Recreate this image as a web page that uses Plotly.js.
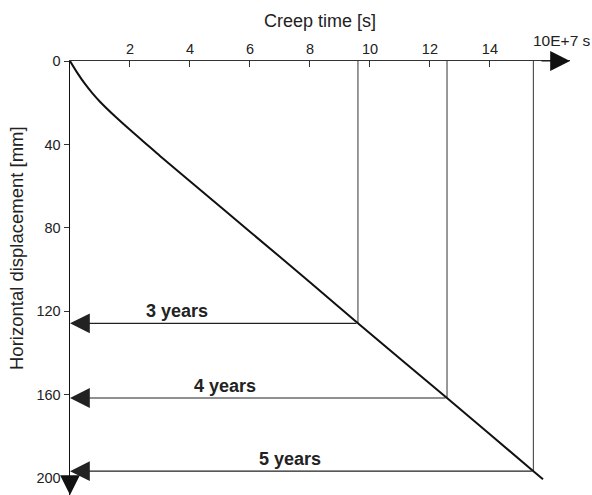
<!DOCTYPE html>
<html>
<head>
<meta charset="utf-8">
<script src="https://cdn.plot.ly/plotly-3.0.1.min.js"></script>
<style>html,body{margin:0;padding:0;background:#fff;}#chart{width:592px;height:495px;}</style>
</head>
<body>
<div id="chart"></div>
<script>
// Creep curve (time in 10E+7 s, displacement in mm)
const curveTime = [0, 0.25, 0.5, 0.75, 1.0, 1.5, 2.0, 2.6, 3.0, 4.0, 6.0, 8.0, 9.6, 12.57, 15.45, 15.77];
const curveDisp = [0, 5.8, 11, 15.5, 19.5, 26.5, 33, 40.5, 45.5, 57.6, 81.8, 106, 125.7, 161.5, 196.6, 200.5];
// Marked durations
const yearLabels = ['3 years', '4 years', '5 years'];
const yearTime = [9.6, 12.57, 15.45];
const yearDisp = [125.7, 161.5, 196.6];
const labelTime = [3.57, 5.17, 7.33];
// Ticks
const xTicks = [2, 4, 6, 8, 10, 12, 14];
const yTicks = [0, 40, 80, 120, 160, 200];

const xMax = 16.67, yMax = 208;
const font = 'Liberation Sans, Arial, sans-serif';

const traces = [];
yearTime.forEach((t, i) => {
  traces.push({x: [t, t], y: [0, yearDisp[i]], mode: 'lines', line: {color: '#555', width: 1.2}, hoverinfo: 'skip', showlegend: false});
});
traces.push({x: curveTime, y: curveDisp, mode: 'lines', line: {color: '#111', width: 2, shape: 'spline', smoothing: 0.8}, showlegend: false});

const arrowStyle = {text: '', showarrow: true, arrowhead: 2, arrowsize: 3.3, arrowwidth: 1.2, standoff: 0,
  xref: 'x', yref: 'y', axref: 'x', ayref: 'y'};
const annotations = [];
yearTime.forEach((t, i) => {
  annotations.push(Object.assign({}, arrowStyle, {x: 0, y: yearDisp[i], ax: t, ay: yearDisp[i], arrowcolor: '#222'}));
  annotations.push({x: labelTime[i], y: yearDisp[i], xref: 'x', yref: 'y', text: '<b>' + yearLabels[i] + '</b>',
    showarrow: false, yanchor: 'bottom', yshift: 0, font: {family: font, size: 18, color: '#222'}});
});
// axis arrows
annotations.push(Object.assign({}, arrowStyle, {x: xMax, y: 0, ax: xMax - 1, ay: 0, arrowcolor: '#111'}));
annotations.push(Object.assign({}, arrowStyle, {x: 0, y: yMax, ax: 0, ay: yMax - 5, arrowcolor: '#111'}));
annotations.push({x: 16.4, y: 0, xref: 'x', yref: 'y', text: '10E+7 s', showarrow: false,
  yanchor: 'bottom', yshift: 10, font: {family: font, size: 15.5, color: '#222'}});
// y axis title (rotated text, paper coords relative to plot area 70..570 x 61..495)
annotations.push({x: (17 - 70) / 500, y: (495 - 248) / 434, xref: 'paper', yref: 'paper', xanchor: 'center', yanchor: 'middle',
  text: 'Horizontal displacement [mm]', textangle: -90, showarrow: false, font: {family: font, size: 18.5, color: '#222'}});

const layout = {
  width: 592, height: 495,
  margin: {l: 70, r: 22, t: 61, b: 0},
  paper_bgcolor: '#fff', plot_bgcolor: '#fff',
  showlegend: false,
  font: {family: font, color: '#222'},
  xaxis: {
    side: 'top', range: [0, xMax], showgrid: false, zeroline: false,
    showline: true, linecolor: '#333', linewidth: 1.5,
    ticks: 'inside', ticklen: 6, tickcolor: '#333', tickvals: xTicks,
    tickfont: {family: font, size: 14.5},
    title: {text: 'Creep time [s]', font: {family: font, size: 18}, standoff: 8}
  },
  yaxis: {
    range: [yMax, 0], showgrid: false, zeroline: false,
    showline: true, linecolor: '#111', linewidth: 1.5,
    ticks: 'outside', ticklen: 5, tickcolor: '#333', tickvals: yTicks,
    tickfont: {family: font, size: 14.5}
  },
  annotations: annotations
};

Plotly.newPlot('chart', traces, layout, {displayModeBar: false, staticPlot: true});
</script>
</body>
</html>
